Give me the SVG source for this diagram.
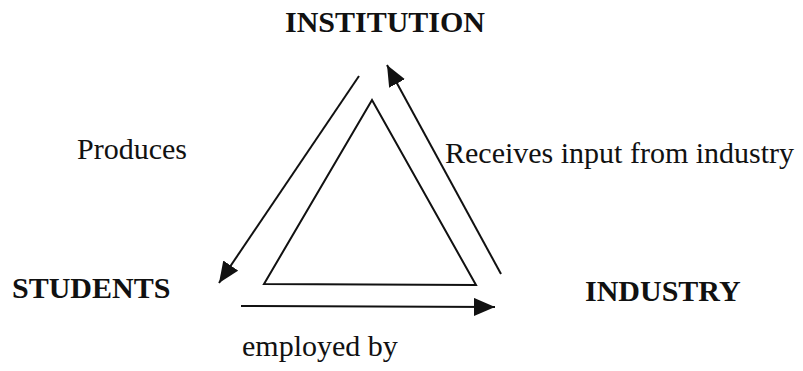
<svg xmlns="http://www.w3.org/2000/svg" width="803" height="371" viewBox="0 0 803 371">
  <style>
    .lbl { font-family: "Liberation Serif", "Times New Roman", serif; font-size: 30px; fill: #111; }
    .node { font-family: "Liberation Serif", "Times New Roman", serif; font-size: 30px; font-weight: bold; fill: #111; }
    .edge { stroke: #111; stroke-width: 2; fill: none; }
    .tri { stroke: #111; stroke-width: 2; fill: none; stroke-linejoin: miter; }
  </style>
  <defs>
    <!-- solid triangular arrowhead shared by all three connectors -->
    <marker id="head" markerUnits="userSpaceOnUse" markerWidth="23" markerHeight="20" refX="21" refY="9" orient="auto">
      <path d="M0,0 L21,9 L0,18 z" fill="#111"/>
    </marker>
  </defs>
  <rect width="803" height="371" fill="#fff"/>

  <!-- central triangle -->
  <g id="cycle">
    <polygon class="tri" points="372,100 264,284 476,285"/>
  </g>

  <g id="institution">
    <text class="node" x="385" y="32" text-anchor="middle">INSTITUTION</text>
  </g>
  <g id="students">
    <text class="node" x="12" y="298">STUDENTS</text>
  </g>
  <g id="industry">
    <text class="node" x="585" y="301">INDUSTRY</text>
  </g>

  <!-- connectors -->
  <g id="connectors">
    <line class="edge" x1="359" y1="76" x2="219" y2="283" marker-end="url(#head)"/>
    <line class="edge" x1="501" y1="274" x2="387" y2="65" marker-end="url(#head)"/>
    <line class="edge" x1="241" y1="306" x2="495" y2="307" marker-end="url(#head)"/>
  </g>

  <g id="labels">
    <text class="lbl" x="77" y="159">Produces</text>
    <text class="lbl" x="445" y="163">Receives input from industry</text>
    <text class="lbl" x="242" y="356">employed by</text>
  </g>
</svg>
